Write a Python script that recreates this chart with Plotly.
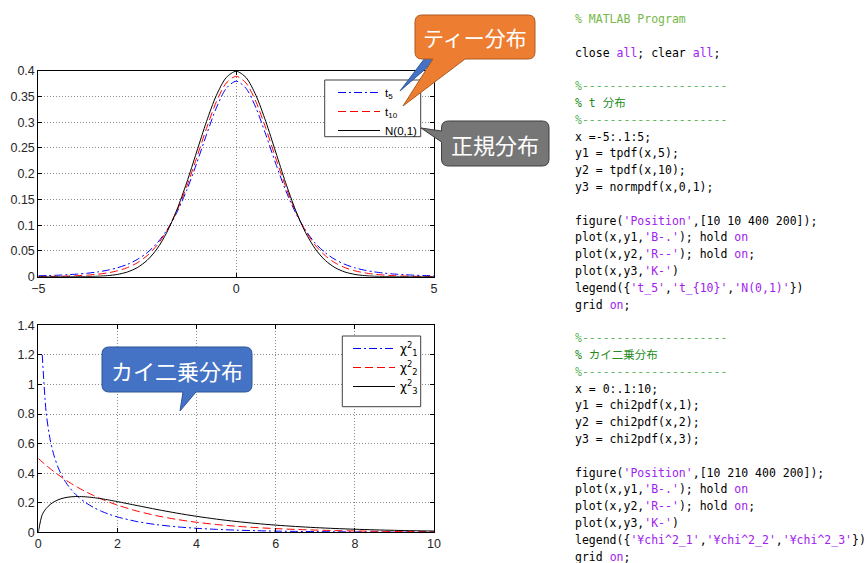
import plotly.graph_objects as go

# ---------------- data ----------------
t_x = [-5, -4.75, -4.5, -4.25, -4, -3.75, -3.5, -3.25, -3, -2.75, -2.5, -2.25, -2, -1.75, -1.5, -1.25,
       -1, -0.75, -0.5, -0.25, 0, 0.25, 0.5, 0.75, 1, 1.25, 1.5, 1.75, 2, 2.25, 2.5, 2.75, 3, 3.25,
       3.5, 3.75, 4, 4.25, 4.5, 4.75, 5]
t5_pdf = [0.00176, 0.00227, 0.00295, 0.00387, 0.00512, 0.00685, 0.00924, 0.01259, 0.01729, 0.02393,
          0.03333, 0.04657, 0.06509, 0.09054, 0.12452, 0.16790, 0.21968, 0.27570, 0.32793, 0.36573,
          0.37961, 0.36573, 0.32793, 0.27570, 0.21968, 0.16790, 0.12452, 0.09054, 0.06509, 0.04657,
          0.03333, 0.02393, 0.01729, 0.01259, 0.00924, 0.00685, 0.00512, 0.00387, 0.00295, 0.00227, 0.00176]
t10_pdf = [0.00040, 0.00059, 0.00088, 0.00133, 0.00203, 0.00311, 0.00478, 0.00738, 0.01140, 0.01757,
           0.02694, 0.04090, 0.06114, 0.08954, 0.12744, 0.17510, 0.23037, 0.28798, 0.33970, 0.37600,
           0.38911, 0.37600, 0.33970, 0.28798, 0.23037, 0.17510, 0.12744, 0.08954, 0.06114, 0.04090,
           0.02694, 0.01757, 0.01140, 0.00738, 0.00478, 0.00311, 0.00203, 0.00133, 0.00088, 0.00059, 0.00040]
norm_pdf = [0.00000, 0.00001, 0.00002, 0.00005, 0.00013, 0.00035, 0.00087, 0.00203, 0.00443, 0.00909,
            0.01753, 0.03174, 0.05399, 0.08628, 0.12952, 0.18265, 0.24197, 0.30114, 0.35207, 0.38667,
            0.39894, 0.38667, 0.35207, 0.30114, 0.24197, 0.18265, 0.12952, 0.08628, 0.05399, 0.03174,
            0.01753, 0.00909, 0.00443, 0.00203, 0.00087, 0.00035, 0.00013, 0.00005, 0.00002, 0.00001, 0.00000]

chi_x = [0, 0.1, 0.2, 0.3, 0.4, 0.5, 0.6, 0.7, 0.8, 0.9, 1.0, 1.2, 1.4, 1.6, 1.8, 2.0, 2.5, 3.0, 3.5,
         4.0, 4.5, 5.0, 5.5, 6.0, 6.5, 7.0, 7.5, 8.0, 8.5, 9.0, 9.5, 10.0]
chi1_pdf = [None, 1.20004, 0.80717, 0.62691, 0.51644, 0.43939, 0.38154, 0.33602, 0.29898, 0.26813,
            0.24197, 0.19987, 0.16743, 0.14171, 0.12090, 0.10378, 0.07229, 0.05139, 0.03706, 0.02700,
            0.01982, 0.01464, 0.01087, 0.00811, 0.00607, 0.00455, 0.00343, 0.00258, 0.00195, 0.00148,
            0.00112, 0.00085]
chi2_pdf = [0.5, 0.47561, 0.45242, 0.43035, 0.40937, 0.38940, 0.37041, 0.35234, 0.33516, 0.31881,
            0.30327, 0.27441, 0.24829, 0.22466, 0.20328, 0.18394, 0.14325, 0.11157, 0.08689, 0.06767,
            0.05270, 0.04104, 0.03196, 0.02489, 0.01939, 0.01510, 0.01176, 0.00916, 0.00713, 0.00555,
            0.00433, 0.00337]
chi3_pdf = [0, 0.12000, 0.16143, 0.18807, 0.20658, 0.21970, 0.22893, 0.23521, 0.23919, 0.24132,
            0.24197, 0.23984, 0.23441, 0.22674, 0.21761, 0.20755, 0.18072, 0.15418, 0.12970, 0.10798,
            0.08920, 0.07322, 0.05981, 0.04865, 0.03944, 0.03187, 0.02570, 0.02067, 0.01659, 0.01330,
            0.01064, 0.00850]

t_names = ["t<sub>5</sub>", "t<sub>10</sub>", "N(0,1)"]
chi_names = ["χ<sup>2</sup><sub>1</sub>", "χ<sup>2</sup><sub>2</sub>", "χ<sup>2</sup><sub>3</sub>"]

t_xticks = [-5, 0, 5]
t_yticks = [0, 0.05, 0.1, 0.15, 0.2, 0.25, 0.3, 0.35, 0.4]
t_yticktext = ["0", "0.05", "0.1", "0.15", "0.2", "0.25", "0.3", "0.35", "0.4"]
chi_xticks = [0, 2, 4, 6, 8, 10]
chi_yticks = [0, 0.2, 0.4, 0.6, 0.8, 1.0, 1.2, 1.4]
chi_yticktext = ["0", "0.2", "0.4", "0.6", "0.8", "1", "1.2", "1.4"]

callout_labels = ["ティー分布", "正規分布", "カイ二乗分布"]

K, P_, G, G2, LG = "#000000", "#A020F0", "#228B22", "#5DB55D", "#76B84A"
code_lines = [
    [("% MATLAB Program", LG)],
    [],
    [("close ", K), ("all", P_), ("; clear ", K), ("all", P_), (";", K)],
    [],
    [("%" + "-" * 21, G2)],
    [("% t 分布", G)],
    [("%" + "-" * 21, G2)],
    [("x =-5:.1:5;", K)],
    [("y1 = tpdf(x,5);", K)],
    [("y2 = tpdf(x,10);", K)],
    [("y3 = normpdf(x,0,1);", K)],
    [],
    [("figure(", K), ("'Position'", P_), (",[10 10 400 200]);", K)],
    [("plot(x,y1,", K), ("'B-.'", P_), ("); hold ", K), ("on", P_)],
    [("plot(x,y2,", K), ("'R--'", P_), ("); hold ", K), ("on", P_), (";", K)],
    [("plot(x,y3,", K), ("'K-'", P_), (")", K)],
    [("legend({", K), ("'t_5'", P_), (",", K), ("'t_{10}'", P_), (",", K), ("'N(0,1)'", P_), ("})", K)],
    [("grid ", K), ("on", P_), (";", K)],
    [],
    [("%" + "-" * 21, G2)],
    [("% カイ二乗分布", G)],
    [("%" + "-" * 21, G2)],
    [("x = 0:.1:10;", K)],
    [("y1 = chi2pdf(x,1);", K)],
    [("y2 = chi2pdf(x,2);", K)],
    [("y3 = chi2pdf(x,3);", K)],
    [],
    [("figure(", K), ("'Position'", P_), (",[10 210 400 200]);", K)],
    [("plot(x,y1,", K), ("'B-.'", P_), ("); hold ", K), ("on", P_)],
    [("plot(x,y2,", K), ("'R--'", P_), ("); hold ", K), ("on", P_), (";", K)],
    [("plot(x,y3,", K), ("'K-'", P_), (")", K)],
    [("legend({", K), ("'¥chi^2_1'", P_), (",", K), ("'¥chi^2_2'", P_), (",", K), ("'¥chi^2_3'", P_), ("})", K)],
    [("grid ", K), ("on", P_), (";", K)],
]

# ---------------- layout helpers ----------------
W, H = 867, 563


def pp(x, y):
    return f"{x / W:.5f},{1 - y / H:.5f}"


def callout_path(x0, y0, x1, y1, r, tail):
    side, a, b, tx, ty = tail
    s = [f"M{pp(x0 + r, y0)}", f"L{pp(x1 - r, y0)}", f"Q{pp(x1, y0)} {pp(x1, y0 + r)}",
         f"L{pp(x1, y1 - r)}", f"Q{pp(x1, y1)} {pp(x1 - r, y1)}"]
    if side == "bottom":
        s += [f"L{pp(b, y1)}", f"L{pp(tx, ty)}", f"L{pp(a, y1)}"]
    s += [f"L{pp(x0 + r, y1)}", f"Q{pp(x0, y1)} {pp(x0, y1 - r)}"]
    if side == "left":
        s += [f"L{pp(x0, b)}", f"L{pp(tx, ty)}", f"L{pp(x0, a)}"]
    s += [f"L{pp(x0, y0 + r)}", f"Q{pp(x0, y0)} {pp(x0 + r, y0)}", "Z"]
    return " ".join(s)


DASHDOT = "8px,3px,2px,3px"
DASH = "8px,4px"

fig = go.Figure()
for y, name, col, dash in [(t5_pdf, t_names[0], "#0000FF", DASHDOT),
                           (t10_pdf, t_names[1], "#FF0000", DASH),
                           (norm_pdf, t_names[2], "#000000", "solid")]:
    fig.add_trace(go.Scatter(x=t_x, y=y, name=name, mode="lines", xaxis="x", yaxis="y",
                             legend="legend",
                             line=dict(color=col, width=1, dash=dash, shape="spline", smoothing=0.8)))
for y, name, col, dash in [(chi1_pdf, chi_names[0], "#0000FF", DASHDOT),
                           (chi2_pdf, chi_names[1], "#FF0000", DASH),
                           (chi3_pdf, chi_names[2], "#000000", "solid")]:
    fig.add_trace(go.Scatter(x=chi_x, y=y, name=name, mode="lines", xaxis="x2", yaxis="y2",
                             legend="legend2",
                             line=dict(color=col, width=1, dash=dash, shape="spline", smoothing=0.8)))

axis_common = dict(showline=True, linecolor="black", linewidth=1, mirror="ticks", ticks="inside",
                   ticklen=4, tickcolor="black", showgrid=True, gridcolor="#8c8c8c", griddash="1px,2px",
                   gridwidth=1, zeroline=False, fixedrange=True, automargin=False,
                   tickfont=dict(family="Liberation Sans", size=12.5, color="#262626"))

xdom = [38.3 / W, 434 / W]
fig.update_layout(
    width=W, height=H, margin=dict(l=0, r=0, t=0, b=0, pad=0, autoexpand=False),
    paper_bgcolor="white", plot_bgcolor="white",
    xaxis=dict(domain=xdom, range=[-5, 5], tickvals=t_xticks, anchor="y", **axis_common),
    yaxis=dict(domain=[1 - 276.7 / H, 1 - 70.7 / H], range=[0, 0.4], tickvals=t_yticks,
               ticktext=t_yticktext, anchor="x", **axis_common),
    xaxis2=dict(domain=xdom, range=[0, 10], tickvals=chi_xticks, anchor="y2", **axis_common),
    yaxis2=dict(domain=[1 - 532.3 / H, 1 - 325.3 / H], range=[0, 1.4], tickvals=chi_yticks,
                ticktext=chi_yticktext, anchor="x2", **axis_common),
    legend=dict(x=333 / W, y=1 - 78 / H, xanchor="left", yanchor="top", bgcolor="rgba(0,0,0,0)",
                borderwidth=0, tracegroupgap=0, itemwidth=42,
                font=dict(family="Liberation Sans", size=11.5, color="black")),
    legend2=dict(x=348 / W, y=1 - 334 / H, xanchor="left", yanchor="top", bgcolor="rgba(0,0,0,0)",
                 borderwidth=0, tracegroupgap=0, itemwidth=42,
                 font=dict(family="DejaVu Sans", size=12, color="black")),
    showlegend=True,
)

shapes = []
# legend boxes
for (x0, y0, x1, y1) in [(324.7, 80, 420.7, 136.7), (342.3, 336, 420.7, 406.7)]:
    shapes.append(dict(type="rect", xref="paper", yref="paper", x0=x0 / W, x1=x1 / W,
                       y0=1 - y1 / H, y1=1 - y0 / H, fillcolor="white",
                       line=dict(color="#404040", width=1), layer="above"))
# blue sliver behind orange callout
shapes.append(dict(type="path", xref="paper", yref="paper", layer="above",
                   path=f"M{pp(425, 58)} L{pp(400, 91)} L{pp(438, 58)} Z",
                   fillcolor="#4472C4", line=dict(color="#2F5597", width=1)))
callouts = [
    ((415, 15, 535, 59, 7, ("bottom", 433, 465, 403, 106)), "#ED7D31", "#AE5A21"),
    ((441.5, 121, 549, 166, 7, ("left", 131, 142, 421, 128)), "#767676", "#3F3F3F"),
    ((102, 347, 252, 392, 7, ("bottom", 183, 196, 180, 411)), "#4472C4", "#2F5597"),
]
for (geom, fill, edge) in callouts:
    shapes.append(dict(type="path", xref="paper", yref="paper", layer="above",
                       path=callout_path(*geom), fillcolor=fill, line=dict(color=edge, width=1)))
fig.update_layout(shapes=shapes)

annotations = []
for text, (cx, cy), size in zip(callout_labels, [(475, 37), (495, 143.5), (177, 369.5)], [21, 22, 22]):
    annotations.append(dict(text=text, x=cx / W, y=1 - cy / H, xref="paper", yref="paper",
                            showarrow=False, xanchor="center", yanchor="middle",
                            font=dict(family="Noto Sans CJK JP", size=size, color="white")))
for i, segs in enumerate(code_lines):
    if not segs:
        continue
    html = "".join(f'<span style="color:{c}">{t}</span>' for t, c in segs)
    annotations.append(dict(text=html, x=573 / W, y=1 - (19 + 16.8 * i) / H, xref="paper", yref="paper",
                            showarrow=False, xanchor="left", yanchor="middle", align="left",
                            font=dict(family="DejaVu Sans Mono, Noto Sans CJK JP", size=11.5, color="black")))
fig.update_layout(annotations=annotations)

fig.write_html("out.html", config={"displayModeBar": False},
               post_script="document.body.style.margin='0';document.body.style.padding='0';")
